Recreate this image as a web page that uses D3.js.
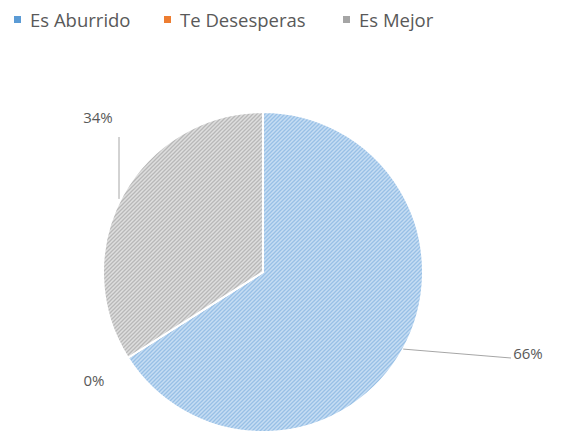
<!DOCTYPE html>
<html>
<head>
<meta charset="utf-8">
<script src="https://cdn.jsdelivr.net/npm/d3@7"></script>
<style>
  body { margin: 0; background: #fff; }
  text { font-family: "Open Sans", sans-serif; fill: #595959; }
</style>
</head>
<body>
<div id="chart"></div>
<script>
// data
var categories = ["Es Aburrido", "Te Desesperas", "Es Mejor"];
var values = [66, 0, 34];
var labels = ["66%", "0%", "34%"];
var colors = ["#5b9bd5", "#ed7d31", "#a5a5a5"];
var lightColors = ["#c6ddf3", "#f8d5bd", "#dedede"];
var stripeColors = ["#98c0e6", "#f0a878", "#b8b8b8"];

var width = 563, height = 435;
var cx = 263, cy = 272, radius = 160;

var svg = d3.select("#chart").append("svg")
    .attr("width", width)
    .attr("height", height);

// striped fills like the office "wide upward diagonal" pattern
var defs = svg.append("defs");
categories.forEach(function(c, i) {
    var p = defs.append("pattern")
        .attr("id", "pat" + i)
        .attr("patternUnits", "userSpaceOnUse")
        .attr("width", 4)
        .attr("height", 4);
    p.append("rect").attr("width", 4).attr("height", 4).attr("fill", lightColors[i]);
    p.append("path")
        .attr("d", "M-1,1 l2,-2 M0,4 l4,-4 M3,5 l2,-2")
        .attr("stroke", stripeColors[i])
        .attr("stroke-width", 1.3);
});

var pie = d3.pie().sort(null).value(function(d) { return d; });
var arcs = pie(values);
var arc = d3.arc().innerRadius(0).outerRadius(radius);

var g = svg.append("g").attr("transform", "translate(" + cx + "," + cy + ")");

g.selectAll(".slice")
    .data(arcs)
    .enter()
    .append("path")
    .attr("class", "slice")
    .attr("d", arc)
    .attr("fill", function(d, i) { return "url(#pat" + i + ")"; })
    .attr("stroke", "#fff")
    .attr("stroke-width", 2);

// data labels with leader lines (label spots)
var labelPos = [
    {x: 528, y: 359, end: [248, 86]},
    {x: 94, y: 386, end: null},
    {x: 98, y: 123, end: [-144, -135]}
];

arcs.forEach(function(d, i) {
    var lp = labelPos[i];
    if (lp.end) {
        var mid = (d.startAngle + d.endAngle) / 2;
        var x0 = Math.sin(mid) * radius, y0 = -Math.cos(mid) * radius;
        var pts = i === 0
            ? [[x0, y0], lp.end]
            : [[lp.end[0], y0 + 4], lp.end];
        g.append("path")
            .attr("d", d3.line()(pts))
            .attr("fill", "none")
            .attr("stroke", "#a6a6a6")
            .attr("stroke-width", 1);
    }
    svg.append("text")
        .attr("x", lp.x)
        .attr("y", lp.y)
        .attr("text-anchor", "middle")
        .style("font-size", "15px")
        .text(labels[i]);
});

// legend
var legendX = [14, 164, 343];
var legend = svg.append("g");
categories.forEach(function(c, i) {
    legend.append("rect")
        .attr("x", legendX[i])
        .attr("y", 16)
        .attr("width", 7)
        .attr("height", 7)
        .attr("fill", colors[i]);
    legend.append("text")
        .attr("x", legendX[i] + 16)
        .attr("y", 27)
        .style("font-size", "18.5px")
        .text(c);
});
</script>
</body>
</html>
